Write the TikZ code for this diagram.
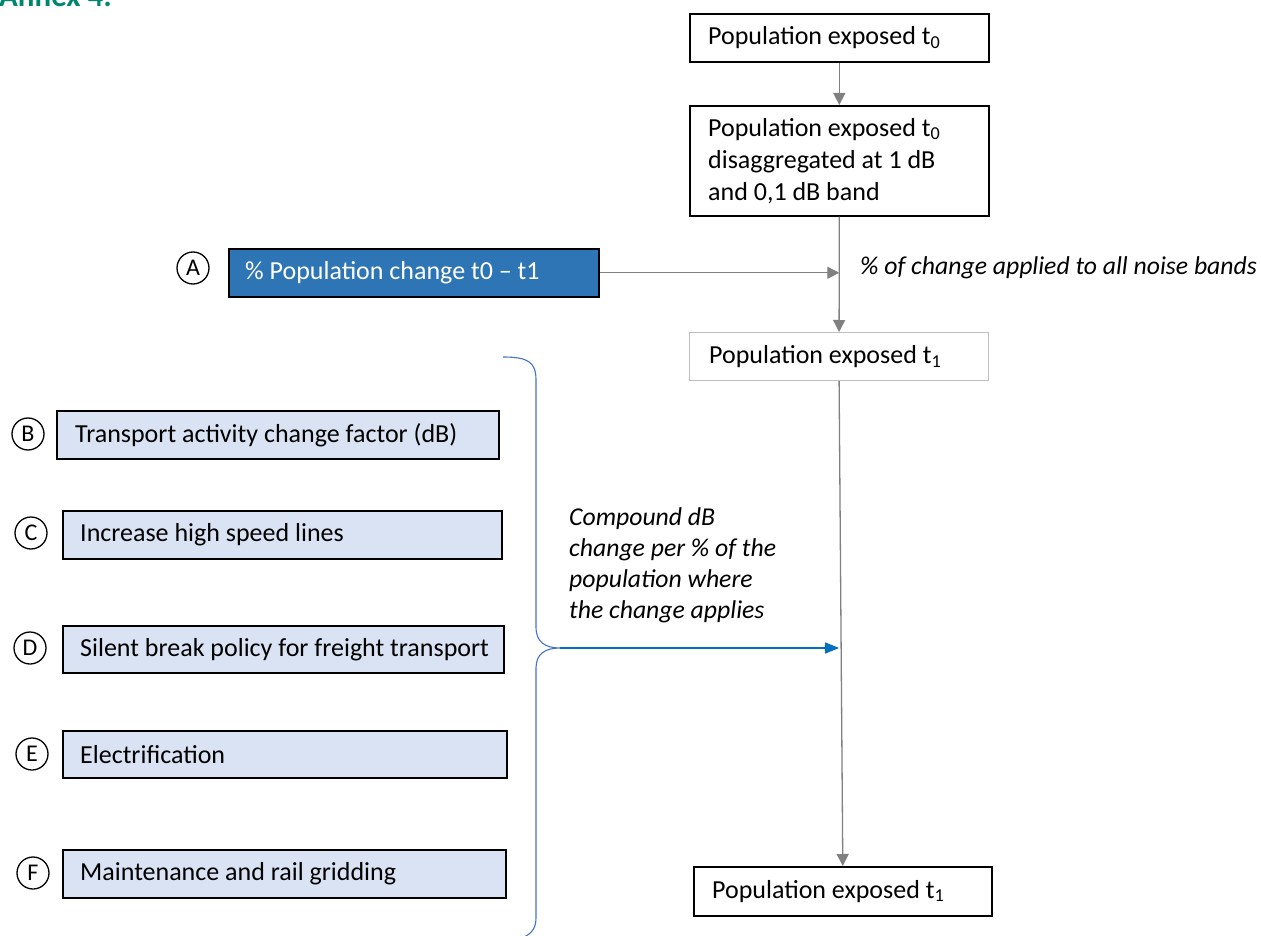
\documentclass[tikz,border=0pt]{standalone}
\usepackage{fontspec}
\setmainfont{Carlito}
\usetikzlibrary{arrows.meta,calc}

\definecolor{flowgray}{RGB}{128,128,128}
\definecolor{lightframe}{RGB}{191,191,191}
\definecolor{popblue}{RGB}{46,117,182}
\definecolor{policyfill}{RGB}{218,227,243}
\definecolor{bracecol}{RGB}{68,114,196}
\definecolor{linkblue}{RGB}{0,112,192}
\definecolor{annexgreen}{RGB}{0,133,110}

\tikzset{
  basefont/.style={font=\fontsize{26}{32}\selectfont},
  frame/.style={draw=black, line width=1.6pt, anchor=north west,
    inner sep=0pt, minimum height=48pt},
  policybox/.style={frame, fill=policyfill},
  boxtext/.style={basefont, anchor=west, align=left, inner sep=0pt},
  tag/.style={circle, draw=black, line width=1.3pt, minimum size=32pt,
    inner sep=0pt, font=\fontsize{24}{24}\selectfont},
  grayarrow/.style={draw=flowgray, line width=1.3pt,
    -{Triangle[length=12pt,width=12pt]}},
  bluearrow/.style={draw=linkblue, line width=1.3pt,
    -{Triangle[length=14pt,width=11pt]}},
  note/.style={font=\fontsize{25.7}{31}\selectfont\itshape, align=left, inner sep=0pt}
}

\begin{document}
\begin{tikzpicture}[x=1pt,y=-1pt]
\useasboundingbox (0,0) rectangle (1261,936);
\clip (0,0) rectangle (1261,936);

% heading
\node[anchor=base west, inner sep=0pt, text=annexgreen,
      font=\fontsize{31}{31}\selectfont\bfseries] (annex) at (-1,7) {Annex 4:};

% main flow on the right
\node[frame, minimum width=299pt] (pop0) at (689,13) {};
\node[boxtext] (pop0txt) at ([xshift=19pt]pop0.west) {Population exposed t\textsubscript{0}};
\node[frame, minimum width=299pt, minimum height=110pt] (popdis) at (689,105) {};
\node[boxtext] (popdistxt) at ([xshift=19pt]popdis.west)
  {Population exposed t\textsubscript{0}\\disaggregated at 1 dB\\and 0,1 dB band};
\node[frame, draw=lightframe, line width=1.2pt, minimum width=299pt] (pop1) at (689,332) {};
\node[boxtext] (pop1txt) at ([xshift=20pt]pop1.west) {Population exposed t\textsubscript{1}};
\node[frame, minimum width=298pt, minimum height=49pt] (pop1b) at (693,866) {};
\node[boxtext] (pop1btxt) at ([xshift=19pt]pop1b.west) {Population exposed t\textsubscript{1}};

% population change input
\node[tag] (tagA) at (193,268) {A};
\node[frame, fill=popblue, minimum width=370pt] (popchg) at (228,248) {};
\node[boxtext, text=white] (popchgtxt) at ([xshift=17pt]popchg.west) {\% Population change t0 – t1};

% policy inputs
\node[tag] (tagB) at (28,434) {B};
\node[policybox, minimum width=442pt] (boxB) at (56,410) {};
\node[boxtext] (txtB) at ([xshift=19pt]boxB.west) {Transport activity change factor (dB)};
\node[tag] (tagC) at (31,533) {C};
\node[policybox, minimum width=439pt] (boxC) at (62,510) {};
\node[boxtext] (txtC) at ([xshift=18pt]boxC.west) {Increase high speed lines};
\node[tag] (tagD) at (30,648) {D};
\node[policybox, minimum width=441pt, minimum height=47pt] (boxD) at (62,625) {};
\node[boxtext] (txtD) at ([xshift=18pt]boxD.west) {Silent break policy for freight transport};
\node[tag] (tagE) at (32,754) {E};
\node[policybox, minimum width=444pt, minimum height=47pt] (boxE) at (62,730) {};
\node[boxtext] (txtE) at ([xshift=18pt]boxE.west) {Electrification};
\node[tag] (tagF) at (33,873) {F};
\node[policybox, minimum width=443pt] (boxF) at (62,849) {};
\node[boxtext] (txtF) at ([xshift=18pt]boxF.west) {Maintenance and rail gridding};

% connectors of the main flow
\draw[grayarrow] (pop0.south) -- (popdis.north);
\draw[grayarrow] (popdis.south) -- (pop1.north);
\draw[grayarrow] (pop1.south) -- (pop1b.north);

\coordinate (joinA) at (popdis.south |- popchg.east);
\draw[grayarrow] (popchg.east) -- (joinA);
\node[note, anchor=west] (noteA) at (860,268) {\% of change applied to all noise bands};

% brace grouping the policy inputs
\coordinate (tip) at (560,648);
\draw[bracecol, line width=1.1pt]
  (503,357) .. controls (528,357) and (536,362) .. (536,380)
  -- (536,627) .. controls (536,642) and (545,648) .. (tip)
  .. controls (545,648) and (536,654) .. (536,668)
  -- (536,918) .. controls (536,930) and (530,936) .. (516,940);
\coordinate (joinB) at (pop1.south |- tip);
\draw[bluearrow] (tip) -- (joinB);

\node[note, anchor=north west] (noteB) at (569,507)
  {Compound dB\\change per \% of the\\population where\\the change applies};
\end{tikzpicture}
\end{document}
